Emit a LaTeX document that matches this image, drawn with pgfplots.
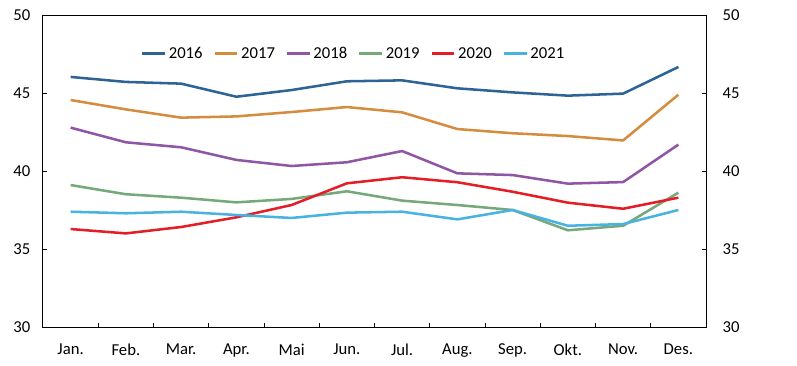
\documentclass[border=0pt]{standalone}
\usepackage{pgfplots}
\pgfplotsset{compat=1.18}
\usepackage{fontspec}
\setmainfont{Carlito}
\definecolor{c16}{RGB}{46,99,150}
\definecolor{c17}{RGB}{214,140,62}
\definecolor{c18}{RGB}{143,86,163}
\definecolor{c19}{RGB}{118,168,122}
\definecolor{c20}{RGB}{228,30,38}
\definecolor{c21}{RGB}{72,178,226}
\begin{document}
\begin{tikzpicture}
\pgfplotsset{
  common/.style={
    scale only axis, width=497.25pt, height=234pt,
    xmin=-0.5, xmax=11.5, ymin=30, ymax=50,
    ytick={30,35,40,45,50},
    /pgf/number format/assume math mode=true,
    tick label style={font=\fontsize{12.5}{14}\selectfont, text=black},
    tick align=inside,
    major tick length=3pt, minor tick length=3pt,
    tick style={black, line width=0.6pt},
  }
}
\begin{axis}[common, name=main,
  axis line style={black, line width=0.75pt},
  xtick={0,...,11},
  xticklabels={Jan.,Feb.,Mar.,Apr.,Mai,Jun.,Jul.,Aug.,Sep.,Okt.,Nov.,Des.},
  major x tick style={draw=none},
  minor xtick={0.5,1.5,...,10.5},
  xtick pos=lower, ytick pos=left,
  xticklabel style={yshift=-9pt},
  yticklabel style={xshift=-6pt},
  every axis plot/.append style={line width=1.9pt, line join=round},
  legend columns=6,
  legend style={draw=none, fill=none, at={(0.469,0.876)}, anchor=center,
    font=\fontsize{12.5}{14}\selectfont,
    /tikz/every even column/.append style={column sep=6pt}},
  legend image code/.code={\draw[#1] (0pt,0pt) -- (17pt,0pt);},
]
\addplot[c16] coordinates {(0,46.03)(1,45.71)(2,45.60)(3,44.76)(4,45.19)(5,45.75)(6,45.81)(7,45.30)(8,45.04)(9,44.83)(10,44.96)(11,46.67)};
\addlegendentry{2016}
\addplot[c17] coordinates {(0,44.55)(1,43.95)(2,43.42)(3,43.50)(4,43.78)(5,44.10)(6,43.76)(7,42.69)(8,42.42)(9,42.24)(10,41.96)(11,44.89)};
\addlegendentry{2017}
\addplot[c18] coordinates {(0,42.78)(1,41.84)(2,41.52)(3,40.71)(4,40.32)(5,40.56)(6,41.28)(7,39.85)(8,39.74)(9,39.19)(10,39.29)(11,41.69)};
\addlegendentry{2018}
\addplot[c19] coordinates {(0,39.10)(1,38.51)(2,38.29)(3,37.99)(4,38.21)(5,38.70)(6,38.10)(7,37.82)(8,37.50)(9,36.20)(10,36.49)(11,38.61)};
\addlegendentry{2019}
\addplot[c20] coordinates {(0,36.28)(1,36.00)(2,36.41)(3,37.03)(4,37.82)(5,39.21)(6,39.60)(7,39.28)(8,38.67)(9,37.97)(10,37.58)(11,38.29)};
\addlegendentry{2020}
\addplot[c21] coordinates {(0,37.39)(1,37.29)(2,37.39)(3,37.18)(4,36.99)(5,37.33)(6,37.39)(7,36.90)(8,37.50)(9,36.49)(10,36.60)(11,37.50)};
\addlegendentry{2021}
\end{axis}
\begin{axis}[common, at={(main.south west)}, anchor=south west,
  hide x axis, axis y line*=right,
  y axis line style={black, line width=0.75pt},
  yticklabel style={xshift=9pt},
]
\end{axis}
\path (main.south west) ++(-32.25pt,-28.5pt) rectangle ++(597.75pt,273.75pt);
\end{tikzpicture}
\end{document}
